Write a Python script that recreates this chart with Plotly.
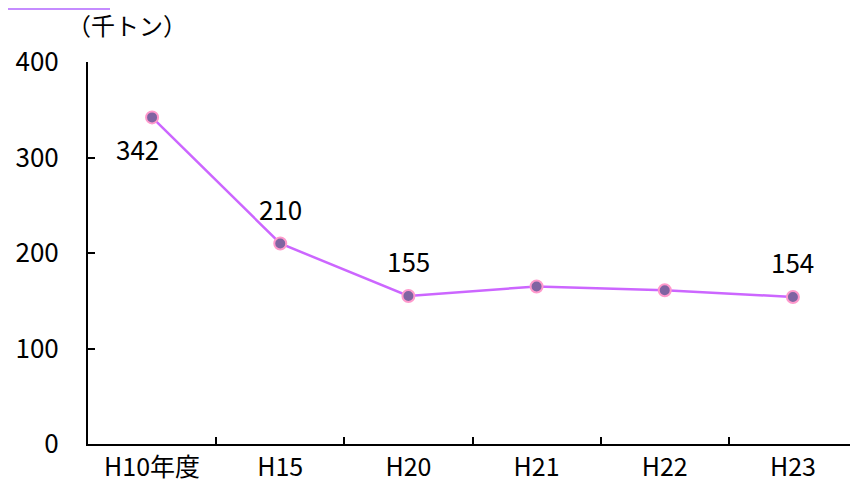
import plotly.graph_objects as go

categories = ["H10年度", "H15", "H20", "H21", "H22", "H23"]
values = [342, 210, 155, 165, 161, 154]
labels = ["342", "210", "155", "", "", "154"]
y_ticks = [0, 100, 200, 300, 400]

FONT = "Noto Sans CJK JP"
# page body has 8px default margin; compensate
W, H = 850, 486
L, R, T, B = 80, 1, 54, 50
PW, PH = W - L - R, H - T - B

fig = go.Figure()
fig.add_trace(go.Scatter(
    x=categories, y=values,
    mode="lines+markers",
    line=dict(color="#CC66FF", width=2.5),
    marker=dict(size=12, color="#8064A2", line=dict(color="#FF99CC", width=2)),
    cliponaxis=False,
    showlegend=False,
))

annos = []
for i, (c, v, t) in enumerate(zip(categories, values, labels)):
    if not t:
        continue
    if i == 0:
        xs, ys = -15, -31
    else:
        xs, ys = 0, 35
    annos.append(dict(x=c, y=v, text=t, showarrow=False, xshift=xs, yshift=ys,
                      xanchor="center", yanchor="middle",
                      font=dict(family=FONT, size=26, color="#000000")))

annos.append(dict(
    text="（千トン）", xref="paper", yref="paper",
    x=(127 - 88) / PW, y=1 + (62 - 25) / PH, xanchor="center", yanchor="middle",
    showarrow=False, font=dict(family=FONT, size=24),
))

fig.update_layout(
    width=W, height=H,
    margin=dict(l=L, r=R, t=T, b=B),
    paper_bgcolor="white", plot_bgcolor="white",
    font=dict(family=FONT, size=26, color="#000000"),
    xaxis=dict(
        type="category",
        showline=True, linecolor="#000000", linewidth=2,
        ticks="inside", tickson="boundaries", ticklen=7, tickcolor="#000000", tickwidth=1.5,
        showgrid=False, zeroline=False,
        tickfont=dict(family=FONT, size=25),
        range=[-0.5, 5.5],
    ),
    yaxis=dict(
        range=[0, 400], tickvals=y_ticks,
        showline=True, linecolor="#000000", linewidth=2,
        ticks="inside", ticklen=7, tickcolor="#000000", tickwidth=1.5,
        showgrid=False, zeroline=False,
        tickfont=dict(family=FONT, size=26),
        ticklabelstandoff=22,
    ),
    annotations=annos,
    shapes=[dict(
        type="rect", xref="paper", yref="paper",
        x0=-L / PW, x1=(102 - 80) / PW, y0=1 + (T - 2) / PH, y1=1 + T / PH,
        fillcolor="#C58CFF", line=dict(width=0),
    )],
)

fig.write_html("out.html")
